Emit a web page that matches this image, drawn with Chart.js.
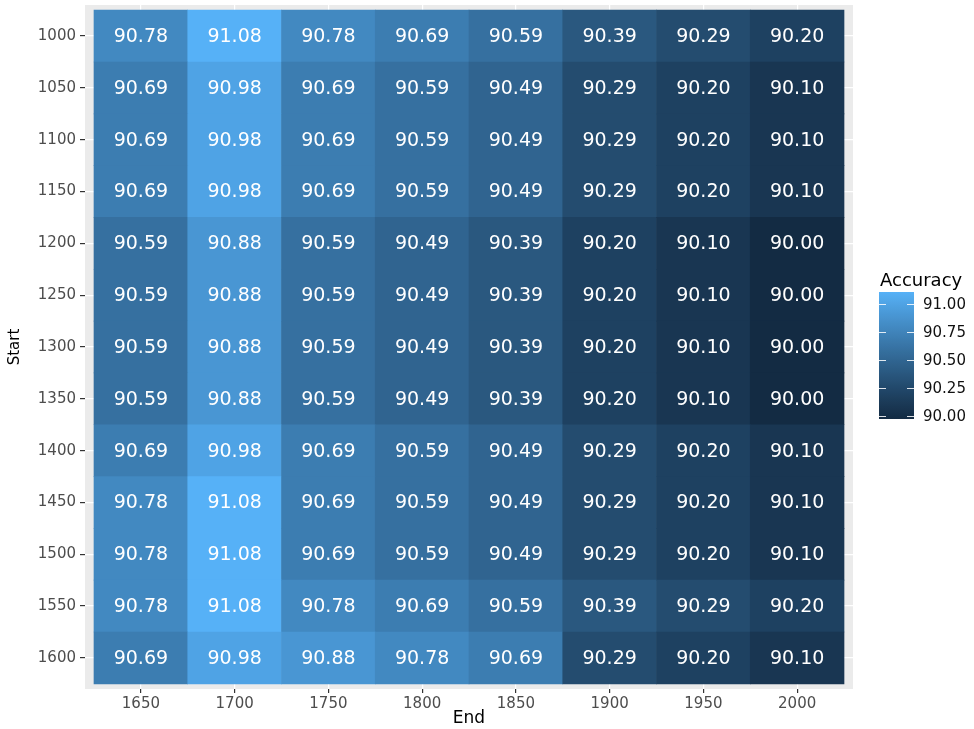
<!DOCTYPE html>
<html>
<head>
<meta charset="utf-8">
<script src="https://cdn.jsdelivr.net/npm/chart.js@4.4.1/dist/chart.umd.min.js"></script>
<style>
  html, body { margin: 0; padding: 0; background: #ffffff; }
  #wrap { width: 974px; height: 729px; }
</style>
</head>
<body>
<div id="wrap"><canvas id="heat" width="974" height="729"></canvas></div>
<script>
// Axis categories
const startLabels = ['1000','1050','1100','1150','1200','1250','1300','1350','1400','1450','1500','1550','1600'];
const endLabels   = ['1650','1700','1750','1800','1850','1900','1950','2000'];

// Accuracy per Start row, one value per End column
const acc1000 = [90.78, 91.08, 90.78, 90.69, 90.59, 90.39, 90.29, 90.20];
const acc1050 = [90.69, 90.98, 90.69, 90.59, 90.49, 90.29, 90.20, 90.10];
const acc1100 = [90.69, 90.98, 90.69, 90.59, 90.49, 90.29, 90.20, 90.10];
const acc1150 = [90.69, 90.98, 90.69, 90.59, 90.49, 90.29, 90.20, 90.10];
const acc1200 = [90.59, 90.88, 90.59, 90.49, 90.39, 90.20, 90.10, 90.00];
const acc1250 = [90.59, 90.88, 90.59, 90.49, 90.39, 90.20, 90.10, 90.00];
const acc1300 = [90.59, 90.88, 90.59, 90.49, 90.39, 90.20, 90.10, 90.00];
const acc1350 = [90.59, 90.88, 90.59, 90.49, 90.39, 90.20, 90.10, 90.00];
const acc1400 = [90.69, 90.98, 90.69, 90.59, 90.49, 90.29, 90.20, 90.10];
const acc1450 = [90.78, 91.08, 90.69, 90.59, 90.49, 90.29, 90.20, 90.10];
const acc1500 = [90.78, 91.08, 90.69, 90.59, 90.49, 90.29, 90.20, 90.10];
const acc1550 = [90.78, 91.08, 90.78, 90.69, 90.59, 90.39, 90.29, 90.20];
const acc1600 = [90.69, 90.98, 90.88, 90.78, 90.69, 90.29, 90.20, 90.10];

// Colour bar breaks
const legendBreaks = [90.00, 90.25, 90.50, 90.75, 91.00];

const rows = [acc1000, acc1050, acc1100, acc1150, acc1200, acc1250, acc1300,
              acc1350, acc1400, acc1450, acc1500, acc1550, acc1600];

// ---- continuous fill scale: dark navy -> light blue, interpolated in CIE Lab ----
const LOW = '#132B43', HIGH = '#56B1F7';
const allVals = rows.flat();
const vMin = Math.min(...allVals), vMax = Math.max(...allVals);

function hexToRgb(h) {
  const n = parseInt(h.slice(1), 16);
  return [(n >> 16) & 255, (n >> 8) & 255, n & 255];
}
function rgbToLab([r, g, b]) {
  const lin = c => { c /= 255; return c <= 0.04045 ? c / 12.92 : Math.pow((c + 0.055) / 1.055, 2.4); };
  const R = lin(r), G = lin(g), B = lin(b);
  const X = (0.4124564 * R + 0.3575761 * G + 0.1804375 * B) / 0.95047;
  const Y = (0.2126729 * R + 0.7151522 * G + 0.0721750 * B);
  const Z = (0.0193339 * R + 0.1191920 * G + 0.9503041 * B) / 1.08883;
  const f = t => t > 0.008856 ? Math.cbrt(t) : 7.787 * t + 16 / 116;
  const fx = f(X), fy = f(Y), fz = f(Z);
  return [116 * fy - 16, 500 * (fx - fy), 200 * (fy - fz)];
}
function labToRgb([L, a, b]) {
  const fy = (L + 16) / 116, fx = fy + a / 500, fz = fy - b / 200;
  const inv = t => { const t3 = t * t * t; return t3 > 0.008856 ? t3 : (t - 16 / 116) / 7.787; };
  const X = inv(fx) * 0.95047, Y = inv(fy), Z = inv(fz) * 1.08883;
  const R = 3.2404542 * X - 1.5371385 * Y - 0.4985314 * Z;
  const G = -0.9692660 * X + 1.8760108 * Y + 0.0415560 * Z;
  const B = 0.0556434 * X - 0.2040259 * Y + 1.0572252 * Z;
  const gam = c => {
    c = c <= 0.0031308 ? 12.92 * c : 1.055 * Math.pow(c, 1 / 2.4) - 0.055;
    return Math.round(Math.min(1, Math.max(0, c)) * 255);
  };
  return [gam(R), gam(G), gam(B)];
}
const labLow = rgbToLab(hexToRgb(LOW)), labHigh = rgbToLab(hexToRgb(HIGH));
function fillFor(v) {
  const t = Math.min(1, Math.max(0, (v - vMin) / (vMax - vMin)));
  const lab = labLow.map((c, i) => c + (labHigh[i] - c) * t);
  const [r, g, b] = labToRgb(lab);
  return `rgb(${r},${g},${b})`;
}

// ---- tiles: one floating bar per cell, spanning its row on the y scale ----
const cells = [];
const cellColors = [];
rows.forEach((row, i) => {
  row.forEach((v, j) => {
    cells.push({ x: j, y: [i - 0.5, i + 0.5], v: v });
    cellColors.push(fillFor(v));
  });
});

const FONT = "'DejaVu Sans', 'Liberation Sans', sans-serif";

// grey panel behind the tiles
const panelBg = {
  id: 'panelBg',
  beforeDraw(chart) {
    const { ctx, chartArea: a } = chart;
    ctx.save();
    ctx.fillStyle = '#EBEBEB';
    ctx.fillRect(a.left, a.top, a.right - a.left, a.bottom - a.top);
    ctx.restore();
  }
};

// value printed in the middle of each tile
const cellText = {
  id: 'cellText',
  afterDatasetsDraw(chart) {
    const { ctx } = chart;
    const meta = chart.getDatasetMeta(0);
    ctx.save();
    ctx.fillStyle = '#FFFFFF';
    ctx.font = `19px ${FONT}`;
    ctx.textAlign = 'center';
    ctx.textBaseline = 'middle';
    meta.data.forEach((el, k) => {
      const p = el.getProps(['x', 'y', 'base'], true);
      ctx.fillText(cells[k].v.toFixed(2), p.x, (p.y + p.base) / 2 + 1);
    });
    ctx.restore();
  }
};

// colour bar legend
const colorBar = {
  id: 'colorBar',
  afterDraw(chart) {
    const { ctx } = chart;
    const x0 = 879, w = 35, top = 292, h = 127, nbin = 20;
    const bottom = top + h;
    ctx.save();
    ctx.fillStyle = '#000000';
    ctx.font = `18px ${FONT}`;
    ctx.textAlign = 'left';
    ctx.textBaseline = 'middle';
    ctx.fillText('Accuracy', 880, 281);

    const grad = ctx.createLinearGradient(0, bottom, 0, top);
    for (let s = 0; s <= 40; s++) {
      const t = s / 40;
      grad.addColorStop(t, fillFor(vMin + t * (vMax - vMin)));
    }
    ctx.fillStyle = grad;
    ctx.fillRect(x0, top, w, h);

    const yFor = v => bottom - (0.5 + (nbin - 1) * (v - vMin) / (vMax - vMin)) / nbin * h;
    ctx.strokeStyle = 'rgba(255,255,255,0.85)';
    ctx.lineWidth = 1;
    ctx.font = `15px ${FONT}`;
    ctx.fillStyle = '#111111';
    legendBreaks.forEach(b => {
      const y = Math.round(yFor(b)) + 0.5;
      ctx.beginPath();
      ctx.moveTo(x0, y); ctx.lineTo(x0 + 7, y);
      ctx.moveTo(x0 + w - 7, y); ctx.lineTo(x0 + w, y);
      ctx.stroke();
      ctx.fillText(b.toFixed(2), 923, y + 1);
    });
    ctx.restore();
  }
};

const integerTicks = n => scale => { scale.ticks = Array.from({ length: n }, (_, i) => ({ value: i })); };

new Chart(document.getElementById('heat'), {
  type: 'bar',
  data: {
    datasets: [{
      data: cells,
      backgroundColor: cellColors,
      borderWidth: 0,
      barPercentage: 1,
      categoryPercentage: 1
    }]
  },
  plugins: [panelBg, cellText, colorBar],
  options: {
    responsive: false,
    animation: false,
    events: [],
    layout: { padding: { top: 5, right: 121, bottom: 0, left: 0 } },
    plugins: { legend: { display: false }, tooltip: { enabled: false } },
    scales: {
      x: {
        type: 'linear',
        offset: false,
        min: -0.596,
        max: endLabels.length - 1 + 0.596,
        afterBuildTicks: integerTicks(endLabels.length),
        afterFit(s) { s.height = 40; s.paddingLeft = 0; s.paddingRight = 0; },
        border: { display: false },
        grid: { offset: false, color: '#FFFFFF', lineWidth: 1.2, tickColor: '#333333', tickWidth: 1.2, tickLength: 4 },
        ticks: {
          autoSkip: false, maxRotation: 0, padding: 2,
          color: '#4D4D4D', font: { family: FONT, size: 15 },
          callback: v => endLabels[v]
        },
        title: { display: true, text: 'End', color: '#000000', font: { family: FONT, size: 17 }, padding: { top: 0, bottom: 0 } }
      },
      y: {
        type: 'linear',
        reverse: true,
        min: -0.6,
        max: startLabels.length - 1 + 0.6,
        afterBuildTicks: integerTicks(startLabels.length),
        afterFit(s) { s.width = 85; s.paddingTop = 0; s.paddingBottom = 0; },
        border: { display: false },
        grid: { color: '#FFFFFF', lineWidth: 1.2, tickColor: '#333333', tickWidth: 1.2, tickLength: 5 },
        ticks: {
          autoSkip: false, padding: 4,
          color: '#4D4D4D', font: { family: FONT, size: 15 },
          callback: v => startLabels[v]
        },
        title: { display: true, text: 'Start', color: '#000000', font: { family: FONT, size: 15 }, padding: { top: 6, bottom: 0 } }
      }
    }
  }
});
</script>
</body>
</html>
